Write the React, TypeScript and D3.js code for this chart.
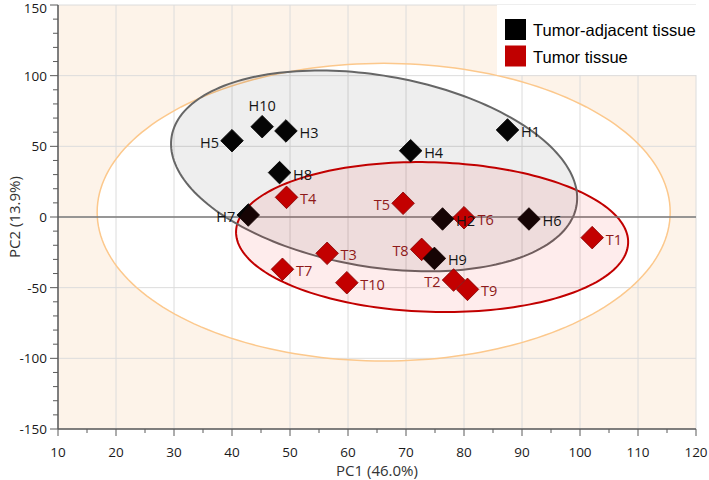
import React from 'react';
import * as d3 from 'd3';

// ---- Data ----
const sampleIds = ['H1', 'H2', 'H3', 'H4', 'H5', 'H6', 'H7', 'H8', 'H9', 'H10',
  'T1', 'T2', 'T3', 'T4', 'T5', 'T6', 'T7', 'T8', 'T9', 'T10'];
const pc1Values = [87.5, 76.3, 49.3, 70.8, 40.0, 91.2, 42.8, 48.2, 74.9, 45.2,
  102.1, 78.2, 56.4, 49.4, 69.5, 80.0, 48.7, 72.7, 80.6, 59.8];
const pc2Values = [61.6, -1.4, 60.9, 46.9, 54.0, -1.4, 1.4, 31.4, -29.3, 63.9,
  -14.6, -44.6, -25.7, 13.9, 9.7, -0.5, -37.0, -22.9, -51.2, -46.5];
const sampleGroups = ['H', 'H', 'H', 'H', 'H', 'H', 'H', 'H', 'H', 'H',
  'T', 'T', 'T', 'T', 'T', 'T', 'T', 'T', 'T', 'T'];
const legendLabels = ['Tumor-adjacent tissue', 'Tumor tissue'];
const xTickValues = [10, 20, 30, 40, 50, 60, 70, 80, 90, 100, 110, 120];
const yTickValues = [-150, -100, -50, 0, 50, 100, 150];
const xTitle = 'PC1 (46.0%)';
const yTitle = 'PC2 (13.9%)';

// ellipses in data units: center, and two conjugate semi-axis vectors
const hotellingEllipse = { cx: 66.15, cy: 3.4, ux: 49.4, uy: 0, vx: 0, vy: 105.3 };
const groupHEllipse = { cx: 64.5, cy: 32.6, ux: 34.9, uy: -24.5, vx: -2.78, vy: -66.7 };
const groupTEllipse = { cx: 74.5, cy: -14.2, ux: 33.8, uy: -4.1, vx: -0.38, vy: -52.9 };

// label placement (layout)
const labelSide: Record<string, string> = {
  H5: 'l', H7: 'l', T5: 'l', T8: 'l', T2: 'l', H10: 't',
};

const W = 709;
const H = 480;
const M = { left: 58, right: 696, top: 5, bottom: 429 };

const groupFill: Record<string, string> = { H: '#050505', T: '#c00000' };
const groupStroke: Record<string, string> = { H: '#000000', T: '#7a0000' };
const groupText: Record<string, string> = { H: '#141414', T: '#8e1a1a' };

export default function App() {
  const x = d3.scaleLinear().domain([10, 120]).range([M.left, M.right]);
  const y = d3.scaleLinear().domain([-150, 150]).range([M.bottom, M.top]);

  const ellipsePath = (e: typeof hotellingEllipse) => {
    const pts = d3.range(0, 200).map((i) => {
      const t = (i / 200) * Math.PI * 2;
      return [
        x(e.cx + e.ux * Math.cos(t) + e.vx * Math.sin(t)),
        y(e.cy + e.uy * Math.cos(t) + e.vy * Math.sin(t)),
      ] as [number, number];
    });
    return d3.line().curve(d3.curveLinearClosed)(pts) || '';
  };

  const pts = sampleIds.map((id, i) => ({
    id, px: x(pc1Values[i]), py: y(pc2Values[i]), g: sampleGroups[i],
  }));
  const drawOrder = [...pts.filter((p) => p.g === 'T'), ...pts.filter((p) => p.g === 'H')];
  const R = 11.3;
  const diamond = (cx: number, cy: number) =>
    `M${cx},${cy - R}L${cx + R},${cy}L${cx},${cy + R}L${cx - R},${cy}Z`;

  const xMinor = d3.range(10, 120.01, 5);
  const yMinor = d3.range(-150, 150.01, 10);
  const font = "'Open Sans', 'Noto Sans', sans-serif";

  return (
    <svg width={W} height={H} style={{ position: 'absolute', left: 0, top: 0 }}>
      <rect x={0} y={0} width={W} height={H} fill="#ffffff" />
      <rect x={M.left} y={M.top} width={M.right - M.left} height={M.bottom - M.top} fill="#fdf3e9" />
      <path d={ellipsePath(hotellingEllipse)} fill="#ffffff" stroke="none" />
      {/* grid */}
      {xTickValues.map((v) => (
        <line key={'gx' + v} x1={x(v)} x2={x(v)} y1={M.top} y2={M.bottom} stroke="#dcdcdc" strokeWidth={1} />
      ))}
      {yTickValues.map((v) => (
        <line key={'gy' + v} x1={M.left} x2={M.right} y1={y(v)} y2={y(v)} stroke="#dcdcdc" strokeWidth={1} />
      ))}
      <path d={ellipsePath(hotellingEllipse)} fill="none" stroke="#fcc88c" strokeWidth={1.5} />
      {/* group ellipses */}
      <path d={ellipsePath(groupHEllipse)} fill="rgba(0,0,0,0.065)" stroke="none" />
      <path d={ellipsePath(groupTEllipse)} fill="none" stroke="#c00000" strokeWidth={2} />
      <path d={ellipsePath(groupHEllipse)} fill="none" stroke="#666666" strokeWidth={2} />
      {/* zero line */}
      <line x1={M.left} x2={M.right} y1={y(0)} y2={y(0)} stroke="#7a7a7a" strokeWidth={1.5} />
      {/* points */}
      {drawOrder.map((p) => (
        <path key={'p' + p.id} d={diamond(p.px, p.py)} fill={groupFill[p.g]} stroke={groupStroke[p.g]} strokeWidth={0.8} />
      ))}
      <path d={ellipsePath(groupTEllipse)} fill="rgba(235,0,0,0.075)" stroke="none" />
      {/* labels */}
      {pts.map((p) => {
        const side = labelSide[p.id] || 'r';
        let tx = p.px + 13.5;
        let ty = p.py + 1.5;
        let anchor = 'start';
        if (side === 'l') { tx = p.px - 13; anchor = 'end'; }
        if (side === 't') { tx = p.px; ty = p.py - 21; anchor = 'middle'; }
        return (
          <text key={'l' + p.id} x={tx} y={ty} textAnchor={anchor} dominantBaseline="central"
            fontFamily={font} fontSize={14.5} fill={groupText[p.g]}>{p.id}</text>
        );
      })}
      {/* axes */}
      <line x1={M.left} x2={M.left} y1={M.top} y2={M.bottom} stroke="#5a5a5a" strokeWidth={1.5} />
      <line x1={M.left} x2={M.right} y1={M.bottom} y2={M.bottom} stroke="#5a5a5a" strokeWidth={1.5} />
      {yMinor.map((v) => (
        <line key={'ym' + v} x1={M.left - (v % 50 === 0 ? 8 : 5)} x2={M.left} y1={y(v)} y2={y(v)} stroke="#5a5a5a" strokeWidth={1} />
      ))}
      {xMinor.map((v) => (
        <line key={'xm' + v} x1={x(v)} x2={x(v)} y1={M.bottom} y2={M.bottom + (v % 10 === 0 ? 7 : 4)} stroke="#5a5a5a" strokeWidth={1} />
      ))}
      {yTickValues.map((v) => (
        <text key={'yt' + v} x={M.left - 11} y={Math.max(y(v), 7.5)} textAnchor="end" dominantBaseline="central"
          fontFamily={font} fontSize={13.5} fill="#1a1a1a">{v}</text>
      ))}
      {xTickValues.map((v) => (
        <text key={'xt' + v} x={x(v)} y={M.bottom + 23} textAnchor="middle" dominantBaseline="central"
          fontFamily={font} fontSize={13.5} fill="#1a1a1a">{v}</text>
      ))}
      <text x={(M.left + M.right) / 2} y={469.5} textAnchor="middle" dominantBaseline="central"
        fontFamily={font} fontSize={15} fill="#333">{xTitle}</text>
      <text transform={`translate(14,${y(0)}) rotate(-90)`} textAnchor="middle" dominantBaseline="central"
        fontFamily={font} fontSize={15} fill="#333">{yTitle}</text>
      {/* legend */}
      <rect x={497} y={5} width={201} height={70} fill="#ffffff" />
      {legendLabels.map((lab, i) => (
        <g key={'lg' + i}>
          <rect x={505} y={19 + i * 26.5} width={21} height={21} fill={i === 0 ? '#000000' : '#c00000'} />
          <text x={533} y={30 + i * 26.5} dominantBaseline="central" fontFamily="'Liberation Sans', Arial, sans-serif"
            fontSize={16.5} fill="#000">{lab}</text>
        </g>
      ))}
    </svg>
  );
}
